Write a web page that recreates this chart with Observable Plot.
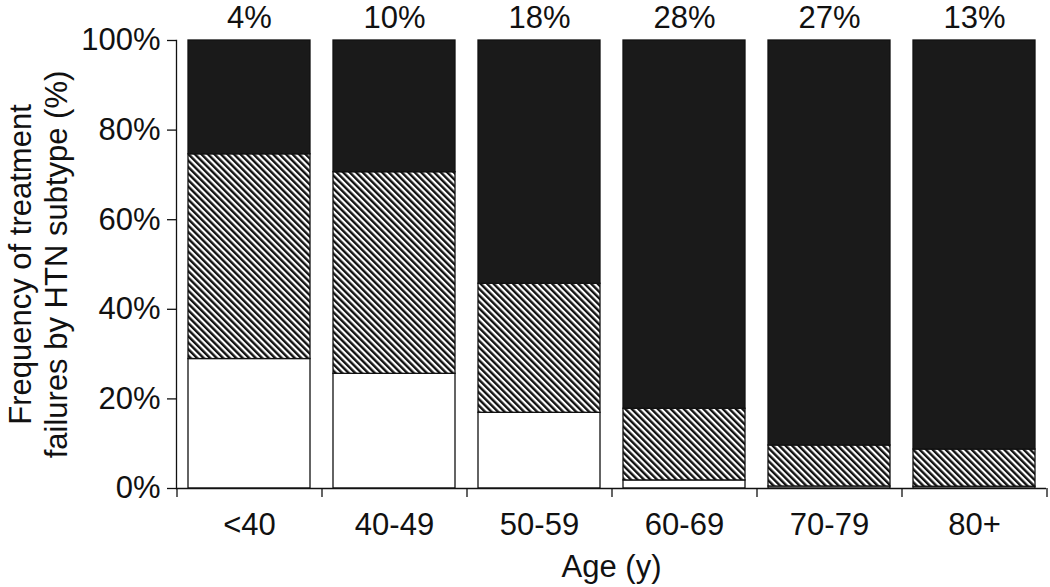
<!DOCTYPE html>
<html>
<head>
<meta charset="utf-8">
<script src="https://cdn.jsdelivr.net/npm/d3@7"></script>
<script src="https://cdn.jsdelivr.net/npm/@observablehq/plot@0.6"></script>
<style>
  html, body { margin: 0; padding: 0; background: #fff; }
  #chart { width: 1050px; height: 587px; }
</style>
</head>
<body>
<div id="chart"></div>
<script>
// Age groups (x categories)
const ages = ["<40", "40-49", "50-59", "60-69", "70-79", "80+"];
// Share of all treatment failures per age group (labels above bars)
const shares = ["4%", "10%", "18%", "28%", "27%", "13%"];
// HTN subtype frequencies (%), bottom to top
const subtypes = ["white", "hatched", "black"];
const whiteVals   = [28.9, 25.6, 16.9, 1.8, 0.45, 0.4];
const hatchedVals = [45.7, 45.0, 28.8, 16.0, 9.15, 8.3];
const blackVals   = [25.4, 29.4, 54.3, 82.2, 90.4, 91.3];
const yTicks = [0, 20, 40, 60, 80, 100];

const seriesVals = [whiteVals, hatchedVals, blackVals];
const rows = [];
ages.forEach((a, i) => {
  subtypes.forEach((s, j) => rows.push({age: a, type: s, value: seriesVals[j][i]}));
});
const shareRows = ages.map((a, i) => ({age: a, share: shares[i]}));
const lastAge = [ages[ages.length - 1]];

const chart = Plot.plot({
  width: 1050,
  height: 587,
  marginLeft: 176,
  marginRight: 4,
  marginTop: 40,
  marginBottom: 99,
  style: {fontFamily: "'Liberation Sans', Arial, Helvetica, sans-serif", fontSize: "31px", color: "#111", background: "#fff"},
  x: {domain: ages, paddingInner: 0.16, paddingOuter: 0.08, label: null},
  y: {domain: [0, 100], label: null},
  color: {type: "ordinal", domain: subtypes, range: ["#ffffff", "url(#hatch)", "#1a1a1a"]},
  marks: [
    Plot.barY(rows, {x: "age", y: "value", fill: "type", stroke: "#111", strokeWidth: 1.3}),
    Plot.axisY({ticks: yTicks, tickFormat: d => d + "%", tickSize: 9, tickPadding: 7, label: null, stroke: "#111", strokeWidth: 1.3}),
    Plot.frame({anchor: "left", stroke: "#111", strokeWidth: 1.3}),
    Plot.ruleY([0], {stroke: "#111", strokeWidth: 1.3}),
    Plot.axisX({tickSize: 0, tickPadding: 24, label: null}),
    Plot.ruleX(ages, {x: d => d, y1: 0, y2: -2, dx: -72.5, stroke: "#111", strokeWidth: 1.3}),
    Plot.ruleX(lastAge, {x: d => d, y1: 0, y2: -2, dx: 72.5, stroke: "#111", strokeWidth: 1.3}),
    Plot.text(shareRows, {x: "age", text: "share", frameAnchor: "top", dy: -22, lineAnchor: "middle", fill: "#111"}),
    Plot.text(["Frequency of treatment\nfailures by HTN subtype (%)"], {text: d => d, frameAnchor: "left", textAnchor: "middle", rotate: -90, dx: -139, lineAnchor: "middle", lineHeight: 1.17, fill: "#111"}),
    Plot.text(["Age (y)"], {text: d => d, frameAnchor: "bottom", dy: 66, lineAnchor: "top", fill: "#111"})
  ]
});

const svg = d3.select(chart);
const defs = svg.insert("defs", ":first-child");
const pat = defs.append("pattern")
  .attr("id", "hatch")
  .attr("patternUnits", "userSpaceOnUse")
  .attr("width", 4.6)
  .attr("height", 10)
  .attr("patternTransform", "rotate(-45)");
pat.append("rect").attr("width", 4.6).attr("height", 10).attr("fill", "#fff");
pat.append("rect").attr("width", 2.4).attr("height", 10).attr("fill", "#111");

document.getElementById("chart").appendChild(chart);
</script>
</body>
</html>
